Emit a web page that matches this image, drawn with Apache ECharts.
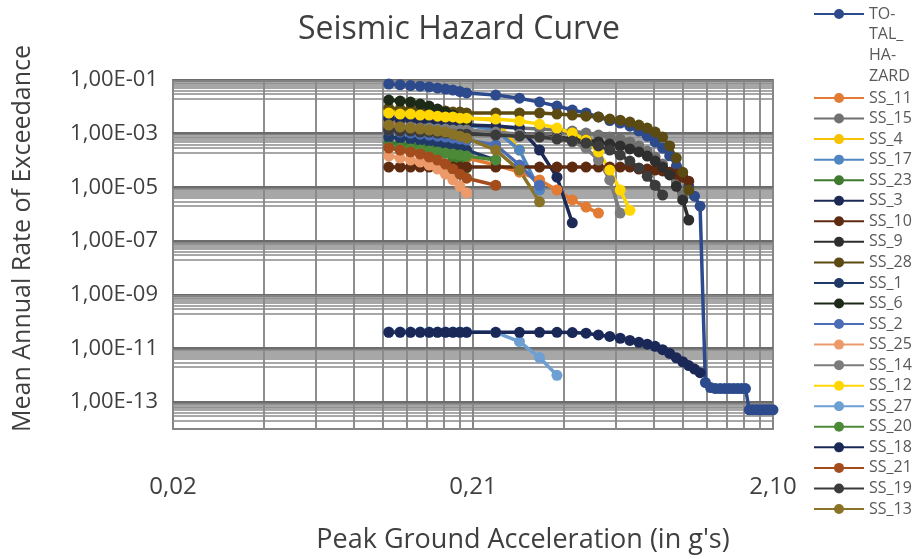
<!DOCTYPE html>
<html>
<head>
<meta charset="utf-8">
<script src="https://cdn.jsdelivr.net/npm/echarts@6/dist/echarts.min.js"></script>
<style>
  html, body { margin: 0; padding: 0; background: #ffffff; }
  #chart { width: 918px; height: 559px; }
</style>
</head>
<body>
<div id="chart"></div>
<script>
// Peak ground acceleration levels (g)
const pga = [0.11, 0.12, 0.13, 0.14, 0.15, 0.16, 0.17, 0.18, 0.19, 0.20,
  0.25, 0.30, 0.35, 0.40, 0.45, 0.50, 0.55, 0.60, 0.65, 0.70, 0.75, 0.80, 0.85, 0.90,
  0.95, 1.00, 1.05, 1.10, 1.15, 1.20, 1.25, 1.30, 1.35, 1.40, 1.45, 1.50, 1.55, 1.60,
  1.65, 1.70, 1.75, 1.80, 1.85, 1.90, 1.95, 2.00, 2.05, 2.10];

// Mean annual rate of exceedance for each source, aligned with pga
const TOTAL_HAZARD = [7.1e-2, 6.6e-2, 6.2e-2, 5.9e-2, 5.5e-2, 5.0e-2, 4.6e-2, 4.2e-2, 3.7e-2, 3.3e-2,
  2.75e-2, 2.1e-2, 1.5e-2, 1.07e-2, 7.6e-3, 5.9e-3, 4.2e-3, 3.1e-3, 2.5e-3, 1.9e-3, 1.25e-3, 8.1e-4, 4.9e-4,
  2.9e-4, 1.5e-4, 6.2e-5, 2.6e-5, 1.1e-5, 4.7e-6, 2.0e-6,
  5.4e-13, 3.5e-13, 3.2e-13, 3.2e-13, 3.2e-13, 3.2e-13, 3.2e-13, 3.2e-13, 3.2e-13, 3.2e-13,
  5.2e-14, 5.2e-14, 5.2e-14, 5.2e-14, 5.2e-14, 5.2e-14, 5.2e-14, 5.2e-14];
const SS_11 = [2.7e-3, 2.09e-3, 1.76e-3, 1.36e-3, 9.6e-4, 6.3e-4, 4.1e-4, 2.7e-4, 1.75e-4, 1.24e-4,
  6.8e-5, 3.7e-5, 1.9e-5, 8.0e-6, 3.4e-6, 1.85e-6, 1.1e-6];
const SS_15 = [3.2e-3, 2.95e-3, 2.95e-3, 2.7e-3, 2.7e-3, 2.48e-3, 2.48e-3, 2.27e-3, 2.27e-3, 2.09e-3,
  1.76e-3, 1.62e-3, 1.48e-3, 1.36e-3, 1.25e-3, 1.05e-3, 8.9e-4, 7.5e-4, 6.3e-4, 4.9e-4, 3.5e-4, 2.25e-4,
  1.35e-4, 7.4e-5, 3.7e-5, 1.6e-5, 5.2e-6];
const SS_4 = [7.6e-3, 7.0e-3, 7.0e-3, 6.4e-3, 5.9e-3, 5.4e-3, 4.95e-3, 4.5e-3, 4.2e-3, 3.8e-3,
  3.2e-3, 2.45e-4];
const SS_17 = [4.95e-3, 4.2e-3, 3.8e-3, 3.5e-3, 3.2e-3, 2.95e-3, 2.7e-3, 2.48e-3, 2.27e-3, 2.09e-3,
  1.36e-3, 2.45e-4, 8.0e-6];
const SS_23 = [4.5e-4, 4.1e-4, 3.8e-4, 3.5e-4, 2.9e-4, 2.45e-4, 1.9e-4, 1.35e-4, 8.8e-5, 5.3e-5];
const SS_3 = [3.8e-3, 3.5e-3, 3.5e-3, 3.2e-3, 3.2e-3, 2.95e-3, 2.7e-3, 2.48e-3, 2.27e-3, 2.09e-3,
  1.92e-3, 1.62e-3, 2.45e-4, 2.4e-5, 4.8e-7];
const SS_10 = [5.7e-5, 5.7e-5, 5.7e-5, 5.7e-5, 5.7e-5, 5.7e-5, 5.7e-5, 5.7e-5, 5.7e-5, 5.7e-5,
  5.7e-5, 5.7e-5, 5.7e-5, 5.7e-5, 5.7e-5, 5.7e-5, 5.7e-5, 5.7e-5, 5.7e-5, 5.7e-5,
  4.8e-5, 4.8e-5, 4.4e-5, 4.1e-5, 3.7e-5, 3.1e-5, 2.4e-5, 1.7e-5];
const SS_9 = [1.62e-3, 1.48e-3, 1.48e-3, 1.36e-3, 1.36e-3, 1.25e-3, 1.25e-3, 1.15e-3, 1.15e-3, 1.15e-3,
  1.05e-3, 8.9e-4, 8.1e-4, 7.5e-4, 6.3e-4, 5.8e-4, 4.9e-4, 4.1e-4, 3.5e-4, 2.7e-4, 2.1e-4, 1.47e-4,
  9.6e-5, 5.7e-5, 2.9e-5, 1.1e-5, 3.4e-6, 6.1e-7];
const SS_28 = [9.0e-3, 8.3e-3, 8.3e-3, 7.6e-3, 7.6e-3, 7.0e-3, 7.0e-3, 6.4e-3, 6.4e-3, 5.9e-3,
  5.9e-3, 5.9e-3, 5.9e-3, 5.4e-3, 4.95e-3, 4.5e-3, 4.2e-3, 3.5e-3, 3.2e-3, 2.7e-3, 2.09e-3, 1.62e-3,
  1.15e-3, 7.5e-4, 3.5e-4, 1.24e-4, 3.7e-5, 8.0e-6];
const SS_1 = [7.5e-4, 6.8e-4, 6.3e-4, 5.8e-4, 5.3e-4, 4.9e-4, 4.1e-4, 3.5e-4, 2.9e-4, 2.45e-4, 1.04e-4];
const SS_6 = [1.79e-2, 1.64e-2, 1.51e-2, 1.27e-2, 1.07e-2, 8.3e-3, 6.4e-3, 4.95e-3, 3.8e-3, 2.95e-3];
const SS_2 = [1.36e-3, 1.15e-3, 1.05e-3, 9.6e-4, 8.9e-4, 8.1e-4, 7.5e-4, 6.8e-4, 6.3e-4, 5.8e-4,
  3.8e-4, 6.8e-5, 1.2e-5];
const SS_25 = [1.47e-4, 1.24e-4, 1.04e-4, 8.8e-5, 6.8e-5, 4.8e-5, 3.1e-5, 1.9e-5, 1.1e-5, 6.2e-6];
const SS_14 = [1.92e-3, 1.76e-3, 1.76e-3, 1.62e-3, 1.62e-3, 1.48e-3, 1.48e-3, 1.36e-3, 1.36e-3, 1.36e-3,
  1.15e-3, 9.6e-4, 8.1e-4, 6.8e-4, 4.9e-4, 2.9e-4, 1.04e-4, 1.9e-5, 1.1e-6];
const SS_12 = [5.9e-3, 5.4e-3, 5.4e-3, 4.95e-3, 4.95e-3, 4.5e-3, 4.2e-3, 4.2e-3, 3.8e-3, 3.8e-3,
  3.5e-3, 2.95e-3, 2.27e-3, 1.62e-3, 1.05e-3, 5.8e-4, 2.1e-4, 4.4e-5, 8.0e-6, 1.4e-6];
const SS_27 = [4.1e-11, 4.1e-11, 4.1e-11, 4.1e-11, 4.1e-11, 4.1e-11, 4.1e-11, 4.1e-11, 4.1e-11, 4.1e-11,
  4.0e-11, 1.8e-11, 4.6e-12, 1.0e-12];
const SS_20 = [3.2e-4, 2.9e-4, 2.7e-4, 2.45e-4, 2.25e-4, 2.1e-4, 1.9e-4, 1.75e-4, 1.6e-4, 1.47e-4, 1.04e-4];
const SS_18 = [4.0e-11, 4.0e-11, 4.0e-11, 4.0e-11, 4.0e-11, 4.0e-11, 4.0e-11, 4.0e-11, 4.0e-11, 4.0e-11,
  4.0e-11, 4.0e-11, 4.0e-11, 4.0e-11, 3.9e-11, 3.7e-11, 3.2e-11, 2.8e-11, 2.4e-11, 2.0e-11, 1.7e-11,
  1.45e-11, 1.2e-11, 9.0e-12, 6.5e-12, 4.5e-12, 3.2e-12, 2.3e-12, 1.7e-12, 1.25e-12];
const SS_21 = [2.9e-4, 2.45e-4, 2.1e-4, 1.75e-4, 1.35e-4, 1.04e-4, 7.4e-5, 4.8e-5, 3.1e-5, 2.2e-5, 1.2e-5];
const SS_19 = [1.36e-3, 1.25e-3, 1.25e-3, 1.15e-3, 1.15e-3, 1.05e-3, 1.05e-3, 9.6e-4, 9.6e-4, 9.6e-4,
  8.9e-4, 8.1e-4, 7.5e-4, 6.3e-4, 5.3e-4, 4.5e-4, 3.5e-4, 2.45e-4, 1.6e-4, 9.6e-5, 5.3e-5, 2.6e-5,
  1.2e-5, 5.2e-6];
const SS_13 = [2.09e-3, 1.76e-3, 1.62e-3, 1.48e-3, 1.36e-3, 1.25e-3, 1.15e-3, 9.6e-4, 8.1e-4, 6.8e-4,
  2.45e-4, 4.4e-5, 2.9e-6];

// Axis ticks and their printed labels
const xTicks = [0.021, 0.21, 2.1];
const xTickLabels = ['0,02', '0,21', '2,10'];
const yTicks = [1e-1, 1e-3, 1e-5, 1e-7, 1e-9, 1e-11, 1e-13];
const yTickLabels = ['1,00E-01', '1,00E-03', '1,00E-05', '1,00E-07', '1,00E-09', '1,00E-11', '1,00E-13'];

// Series in legend order with their colours
const sources = [
  ['TOTAL_HAZARD', TOTAL_HAZARD, '#2c4a8c'],
  ['SS_11', SS_11, '#e27b34'],
  ['SS_15', SS_15, '#717171'],
  ['SS_4', SS_4, '#f7c300'],
  ['SS_17', SS_17, '#4f86c2'],
  ['SS_23', SS_23, '#3e7a30'],
  ['SS_3', SS_3, '#1c2a55'],
  ['SS_10', SS_10, '#5e2a10'],
  ['SS_9', SS_9, '#2e2e2e'],
  ['SS_28', SS_28, '#5b4a12'],
  ['SS_1', SS_1, '#203a68'],
  ['SS_6', SS_6, '#1d2a18'],
  ['SS_2', SS_2, '#4a6db5'],
  ['SS_25', SS_25, '#ec9a6a'],
  ['SS_14', SS_14, '#7c7c7c'],
  ['SS_12', SS_12, '#ffd600'],
  ['SS_27', SS_27, '#6e9fd2'],
  ['SS_20', SS_20, '#4c8a38'],
  ['SS_18', SS_18, '#1a2858'],
  ['SS_21', SS_21, '#a44c1c'],
  ['SS_19', SS_19, '#3b3b3b'],
  ['SS_13', SS_13, '#8a7327']
];

const FONT = '"Open Sans", "Noto Sans", sans-serif';
const TEXT = '#3f3f3f';

// Gridlines: major lines at the labelled ticks, minor lines at 2..9 times the decade below
const gridLines = [];
xTicks.forEach((v, i) => {
  gridLines.push({
    xAxis: v,
    lineStyle: { color: '#858585', width: 2 },
    label: { show: true, position: 'start', formatter: xTickLabels[i], distance: 46,
      fontSize: 24, color: TEXT, fontFamily: FONT }
  });
  if (i < xTicks.length - 1) {
    for (let k = 2; k <= 9; k++) {
      gridLines.push({ xAxis: v * k, lineStyle: { color: '#8e8e8e', width: 2 } });
    }
  }
});
yTicks.forEach((v, i) => {
  gridLines.push({
    yAxis: v,
    lineStyle: { color: '#6c6c6c', width: 3 },
    label: { show: true, position: 'start', formatter: yTickLabels[i], distance: 15,
      fontSize: 22, color: TEXT, fontFamily: FONT }
  });
  for (let k = 2; k <= 9; k++) {
    gridLines.push({ yAxis: v / 10 * k, lineStyle: { color: '#8a8a8a', width: 1.6 } });
  }
});

const series = [{
  name: 'grid',
  type: 'line',
  data: [],
  silent: true,
  markLine: {
    silent: true,
    z: 1,
    precision: 20,
    symbol: ['none', 'none'],
    animation: false,
    label: { show: false },
    lineStyle: { type: 'solid' },
    emphasis: { disabled: true },
    data: gridLines
  }
}];

sources.forEach(([name, values, color]) => {
  series.push({
    name: name,
    type: 'line',
    data: values.map((v, i) => [pga[i], v]),
    symbol: 'circle',
    symbolSize: 11,
    showSymbol: true,
    color: color,
    lineStyle: { width: 3.5, color: color },
    itemStyle: { color: color },
    z: 3
  });
});

const chart = echarts.init(document.getElementById('chart'), null, { renderer: 'canvas' });
chart.setOption({
  animation: false,
  backgroundColor: '#ffffff',
  title: {
    text: 'Seismic Hazard Curve',
    left: 'center',
    top: 9,
    textStyle: { fontSize: 32, fontWeight: 'normal', color: TEXT, fontFamily: FONT }
  },
  grid: {
    left: 173, right: 145, top: 80, bottom: 130,
    show: true, borderColor: '#858585', borderWidth: 2, backgroundColor: 'transparent'
  },
  legend: [{
    data: ['TOTAL_HAZARD'],
    orient: 'vertical',
    left: 813,
    top: -58.5,
    padding: 0,
    itemWidth: 50,
    itemHeight: 12.5,
    formatter: () => '\n\n\nTO-\nTAL_\nHA-\nZARD',
    textStyle: { fontSize: 16, lineHeight: 20.7, color: '#595959', fontFamily: FONT }
  }, {
    data: sources.slice(1).map(s => s[0]),
    orient: 'vertical',
    left: 813,
    top: 90,
    padding: 0,
    itemGap: 4.55,
    itemWidth: 50,
    itemHeight: 12.5,
    textStyle: { fontSize: 16, lineHeight: 16, color: '#595959', fontFamily: FONT }
  }],
  xAxis: {
    type: 'log',
    logBase: 10,
    min: 0.021,
    max: 2.1,
    axisLine: { show: false },
    axisTick: { show: false },
    axisLabel: { show: false },
    splitLine: { show: false },
    name: "Peak Ground Acceleration (in g's)",
    nameLocation: 'middle',
    nameGap: 98,
    nameTextStyle: { fontSize: 27, color: TEXT, fontFamily: FONT, padding: [0, 0, 0, 100] }
  },
  yAxis: {
    type: 'log',
    logBase: 10,
    min: 1e-14,
    max: 1e-1,
    axisLine: { show: false },
    axisTick: { show: false },
    axisLabel: { show: false },
    splitLine: { show: false },
    name: 'Mean Annual Rate of Exceedance',
    nameLocation: 'middle',
    nameRotate: 90,
    nameGap: 138,
    nameTextStyle: { fontSize: 25, color: TEXT, fontFamily: FONT, padding: [0, 0, 0, 32] }
  },
  series: series
});
</script>
</body>
</html>
